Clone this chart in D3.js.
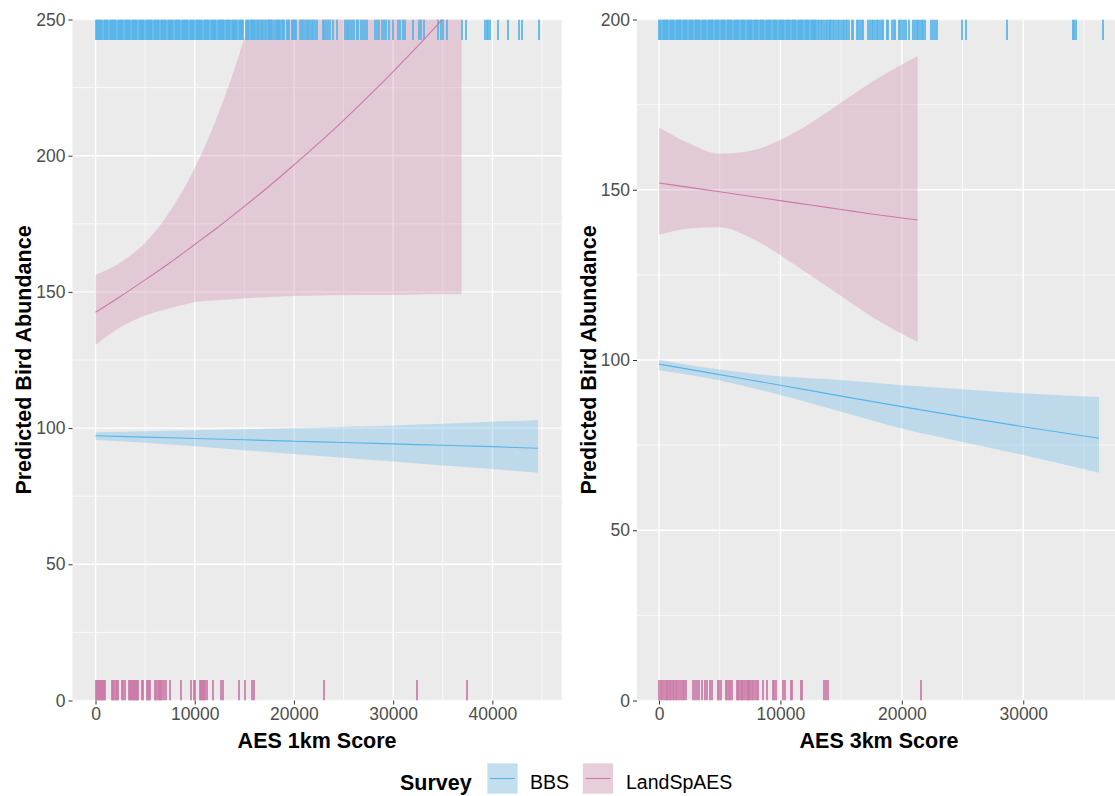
<!DOCTYPE html>
<html>
<head>
<meta charset="utf-8">
<script src="https://cdn.jsdelivr.net/npm/d3@7"></script>
<style>
  html, body { margin: 0; padding: 0; background: #ffffff; }
  svg { display: block; font-family: "Liberation Sans", Arial, sans-serif; }
</style>
</head>
<body>
<svg id="chart" width="1115" height="796"></svg>
<script>
// ---------- data ----------
const surveys = ["BBS", "LandSpAES"];
const surveyColors = ["#56B4E9", "#CC79A7"];

// Panel 1: AES 1km score
const p1TicksX = [0, 10000, 20000, 30000, 40000];
const p1MinorX = [5000, 15000, 25000, 35000, 45000];
const p1TicksY = [0, 50, 100, 150, 200, 250];
const p1MinorY = [25, 75, 125, 175, 225];

const p1BbsX     = [0, 5000, 10000, 15000, 20000, 25000, 30000, 35000, 40000, 44600];
const p1BbsFit   = [97.2, 96.7, 96.2, 95.7, 95.2, 94.7, 94.2, 93.7, 93.2, 92.6];
const p1BbsUpper = [98.5, 98.8, 99.2, 99.6, 100.0, 100.5, 101.0, 101.6, 102.3, 103.0];
const p1BbsLower = [95.6, 94.6, 93.3, 91.9, 90.5, 89.1, 87.7, 86.3, 85.0, 83.6];

const p1LandX     = [0, 2500, 5000, 7500, 10000, 12500, 15000, 17500, 20000, 22500, 25000, 27500, 30000, 32500, 35000, 36900];
const p1LandFit   = [142.5, 148.3, 154.4, 160.7, 167.4, 174.2, 181.4, 188.8, 196.6, 204.6, 213.0, 221.8, 230.9, 240.3, 250.2, 257.8];
const p1LandUpper = [156.2, 160.8, 168.0, 179.5, 195.5, 216.5, 243.0, 275.0, 310.0, 350.0, 395.0, 445.0, 500.0, 560.0, 625.0, 680.0];
const p1LandLower = [130.5, 137.0, 141.3, 144.0, 146.2, 147.0, 147.6, 148.1, 148.5, 148.7, 148.8, 148.9, 148.9, 149.0, 149.1, 149.1];

const p1BbsRug = [0,115,240,350,470,590,700,820,940,1060,1170,1290,1410,1520,1640,1760,1880,1990,2110,2230,2340,2460,2580,2700,2810,2930,3050,3160,3280,3400,3520,3630,3750,3870,3980,4100,4220,4340,4450,4570,4690,4800,4920,5040,5160,5270,5390,5510,5620,5740,5860,5980,6090,6210,6330,6440,6560,6680,6800,6910,7030,7150,7260,7380,7500,7620,7730,7850,7970,8080,8200,8320,8440,8550,8670,8790,8900,9020,9140,9260,9370,9490,9610,9720,9840,9960,10080,10190,10310,10430,10540,10660,10780,10900,11010,11130,11250,11360,11480,11600,11720,11830,11950,12070,12180,12300,12420,12540,12650,12770,12890,13000,13120,13240,13360,13470,13590,13710,13830,13950,14060,14180,14300,14420,14530,14650,14770,14880,
  15170,15290,15410,15500,15640,15760,15880,16000,16120,16240,16360,16480,16690,16810,16930,17050,17170,17350,17470,17590,17710,17830,18030,18150,18270,18390,18510,18630,18750,
  18867,19035,19270,19438,19539,19774,19875,19975,20100,20200,20614,20782,20883,21118,21286,21454,21622,21790,21958,22126,22361,22899,23067,23235,23470,23638,23974,24377,25150,25318,25486,25654,25822,26057,26326,26494,26729,26931,27166,27334,28174,28342,28611,28846,29081,29283,29619,30022,30526,30694,31030,31198,31971,32643,32777,33113,34558,34793,35062,35465,36977,37347,39262,39430,39598,39766,40606,41547,42723,42958,44739];
const p1LandRug = [17,118,219,320,420,521,622,723,857,958,1697,1798,1899,2033,2134,2302,2705,2806,2974,3377,3478,3579,3680,3780,3881,3982,4083,4217,4318,4654,4755,5158,5259,5360,5494,5998,6099,6267,6401,6502,6603,6737,6905,7107,7510,8619,9627,9929,10030,10534,10635,10736,10837,10938,11038,11206,11811,12617,12886,14499,15070,15809,16011,23067,32380,37480];

// Panel 2: AES 3km score
const p2TicksX = [0, 10000, 20000, 30000];
const p2MinorX = [5000, 15000, 25000, 35000];
const p2TicksY = [0, 50, 100, 150, 200];
const p2MinorY = [25, 75, 125, 175];

const p2BbsX     = [0, 5000, 10000, 15000, 20000, 25000, 30000, 36240];
const p2BbsFit   = [98.8, 95.7, 92.6, 89.4, 86.3, 83.3, 80.4, 77.0];
const p2BbsUpper = [100.1, 97.2, 95.2, 94.1, 92.6, 91.4, 90.2, 89.1];
const p2BbsLower = [97.0, 94.0, 89.7, 84.8, 79.9, 75.9, 72.1, 66.9];

const p2LandX     = [0, 2500, 5000, 7500, 10000, 12500, 15000, 17500, 21300];
const p2LandFit   = [152.0, 150.7, 149.4, 148.1, 146.8, 145.5, 144.2, 142.9, 141.1];
const p2LandUpper = [168.3, 163.6, 160.6, 161.4, 164.6, 169.6, 175.6, 181.6, 189.3];
const p2LandLower = [136.8, 138.6, 139.0, 136.0, 130.8, 124.8, 118.8, 112.8, 105.3];

const p2BbsRug = [0,100,195,290,390,490,585,680,780,880,975,1070,1170,1270,1365,1460,1560,1660,1755,1850,1950,2050,2145,2240,2340,2440,2535,2630,2730,2830,2925,3020,3120,3220,3315,3410,3510,3610,3705,3800,3900,4000,4095,4190,4290,4390,4485,4580,4680,4780,4875,4970,5070,5170,5265,5360,5460,5560,5655,5750,5850,5950,6045,6140,6240,6340,6435,6530,6630,6730,6825,6920,7020,7120,7215,7310,7410,7510,7605,7700,7800,7900,7995,8090,8190,8290,8385,8480,8580,8680,8775,8870,8970,9070,9165,9260,9360,9460,9555,9650,9750,9850,9945,10040,10140,10240,10335,10430,10530,10630,10725,10820,10920,11020,11115,11210,11310,11410,11505,11600,11700,11800,11895,11990,12090,12190,12285,12380,12480,12580,12675,12770,12870,12970,13065,13207,
  13317,13454,13591,13728,13866,14003,14085,14168,14305,14442,14580,14717,14854,14991,15184,15266,15376,15513,15678,15870,16008,16337,16420,16557,16694,16831,17243,17380,17517,17655,17792,17929,18067,18204,18341,18424,18808,18891,19220,19330,19440,19770,19852,19989,20209,20346,20593,20950,21088,21225,21362,21500,21637,21774,21912,22406,22543,22735,22927,24987,25289,28694,34076,34186,34351,36603];
const p2LandRug = [0,138,275,440,550,659,769,879,989,1126,1236,1373,1511,1648,1813,1950,2087,2225,2829,2966,3158,3323,3570,3790,3982,4202,4339,4833,4971,5108,5520,5630,5740,5849,5987,6399,6509,6618,6728,6838,6948,7085,7222,7305,7415,7497,7634,7772,7909,8046,8184,8540,8870,9364,9474,9639,10243,10380,10847,10984,11671,11753,13620,13730,13950,21550];

const xTitles = ["AES 1km Score", "AES 3km Score"];
const yTitle = "Predicted Bird Abundance";
const legendTitle = "Survey";

// ---------- layout ----------
const zip = (xs, ...cols) => xs.map((x, i) => ({ x, fit: cols[0][i], lo: cols[1][i], hi: cols[2][i] }));

const panels = [
  {
    left: 72.5, right: 561.7, top: 19.5, bottom: 700.5,
    xDomain: [-2320, 46990], yDomain: [0, 250],
    ticksX: p1TicksX, minorX: p1MinorX, ticksY: p1TicksY, minorY: p1MinorY,
    series: [
      { key: 0, data: zip(p1BbsX, p1BbsFit, p1BbsLower, p1BbsUpper), rug: p1BbsRug, side: "top" },
      { key: 1, data: zip(p1LandX, p1LandFit, p1LandLower, p1LandUpper), rug: p1LandRug, side: "bottom" }
    ],
    xTitle: xTitles[0], yTitleX: 23
  },
  {
    left: 637, right: 1121, top: 19.5, bottom: 700.5,
    xDomain: [-1812, 38052], yDomain: [0, 200],
    ticksX: p2TicksX, minorX: p2MinorX, ticksY: p2TicksY, minorY: p2MinorY,
    series: [
      { key: 0, data: zip(p2BbsX, p2BbsFit, p2BbsLower, p2BbsUpper), rug: p2BbsRug, side: "top" },
      { key: 1, data: zip(p2LandX, p2LandFit, p2LandLower, p2LandUpper), rug: p2LandRug, side: "bottom" }
    ],
    xTitle: xTitles[1], yTitleX: 588
  }
];

const svg = d3.select("#chart");
const defs = svg.append("defs");
const fmt = d3.format("d");

panels.forEach((p, pi) => {
  const x = d3.scaleLinear().domain(p.xDomain).range([p.left, p.right]);
  const y = d3.scaleLinear().domain(p.yDomain).range([p.bottom, p.top]);
  const w = p.right - p.left, h = p.bottom - p.top;

  defs.append("clipPath").attr("id", "clip" + pi)
    .append("rect").attr("x", p.left).attr("y", p.top).attr("width", w).attr("height", h);

  const g = svg.append("g");
  // panel background
  g.append("rect").attr("x", p.left).attr("y", p.top).attr("width", w).attr("height", h).attr("fill", "#EBEBEB");

  // grid lines
  const grid = g.append("g").attr("clip-path", `url(#clip${pi})`);
  grid.selectAll(".minx").data(p.minorX).join("line")
    .attr("x1", d => x(d)).attr("x2", d => x(d)).attr("y1", p.top).attr("y2", p.bottom)
    .attr("stroke", "#ffffff").attr("stroke-width", 0.7);
  grid.selectAll(".miny").data(p.minorY).join("line")
    .attr("y1", d => y(d)).attr("y2", d => y(d)).attr("x1", p.left).attr("x2", p.right)
    .attr("stroke", "#ffffff").attr("stroke-width", 0.7);
  grid.selectAll(".majx").data(p.ticksX).join("line")
    .attr("x1", d => x(d)).attr("x2", d => x(d)).attr("y1", p.top).attr("y2", p.bottom)
    .attr("stroke", "#ffffff").attr("stroke-width", 1.4);
  grid.selectAll(".majy").data(p.ticksY).join("line")
    .attr("y1", d => y(d)).attr("y2", d => y(d)).attr("x1", p.left).attr("x2", p.right)
    .attr("stroke", "#ffffff").attr("stroke-width", 1.4);

  const plot = g.append("g").attr("clip-path", `url(#clip${pi})`);

  // confidence ribbons
  const area = d3.area().x(d => x(d.x)).y0(d => y(d.lo)).y1(d => y(d.hi)).curve(d3.curveMonotoneX);
  p.series.forEach(s => {
    plot.append("path").datum(s.data).attr("d", area)
      .attr("fill", surveyColors[s.key]).attr("fill-opacity", 0.3);
  });

  // rugs (tick centres snapped to pixel boundaries so dense runs fill solidly)
  const rugLen = 0.03 * h;
  p.series.forEach(s => {
    plot.append("g")
      .selectAll("line").data(s.rug).join("line")
      .attr("x1", d => Math.round(x(d))).attr("x2", d => Math.round(x(d)))
      .attr("y1", s.side === "top" ? p.top : p.bottom - rugLen)
      .attr("y2", s.side === "top" ? p.top + rugLen : p.bottom)
      .attr("stroke", surveyColors[s.key]).attr("stroke-width", 1.7);
  });

  // fitted lines
  const line = d3.line().x(d => x(d.x)).y(d => y(d.fit)).curve(d3.curveMonotoneX);
  p.series.forEach(s => {
    plot.append("path").datum(s.data).attr("d", line)
      .attr("fill", "none").attr("stroke", surveyColors[s.key]).attr("stroke-width", 1.1);
  });

  // axes
  const ax = svg.append("g").attr("transform", `translate(0,${p.bottom})`)
    .call(d3.axisBottom(x).tickValues(p.ticksX).tickFormat(fmt).tickSize(4).tickPadding(3));
  const ay = svg.append("g").attr("transform", `translate(${p.left},0)`)
    .call(d3.axisLeft(y).tickValues(p.ticksY).tickFormat(fmt).tickSize(4).tickPadding(3));
  [ax, ay].forEach(a => {
    a.select(".domain").remove();
    a.selectAll(".tick line").attr("stroke", "#333333").attr("stroke-width", 1);
    a.selectAll(".tick text").attr("fill", "#4D4D4D").attr("font-size", 17.5)
      .attr("font-family", "Liberation Sans, Arial, sans-serif");
  });

  // axis titles
  svg.append("text").attr("x", (p.left + p.right) / 2).attr("y", 748)
    .attr("text-anchor", "middle").attr("font-size", 21.5).attr("font-weight", "bold")
    .attr("fill", "#000000").text(p.xTitle);
  svg.append("text")
    .attr("transform", `translate(${p.yTitleX + 8},${(p.top + p.bottom) / 2}) rotate(-90)`)
    .attr("text-anchor", "middle").attr("font-size", 21.5).attr("font-weight", "bold")
    .attr("fill", "#000000").text(yTitle);
});

// ---------- legend ----------
const lg = svg.append("g");
lg.append("text").attr("x", 400).attr("y", 790).attr("font-size", 21.5).attr("font-weight", "bold")
  .attr("fill", "#000000").text(legendTitle);
const keyX = [487, 582.5];
const labX = [530, 626];
surveys.forEach((s, i) => {
  lg.append("rect").attr("x", keyX[i]).attr("y", 763).attr("width", 31).attr("height", 31).attr("fill", "#F2F2F2");
  lg.append("rect").attr("x", keyX[i] + 0.5).attr("y", 763.5).attr("width", 30).attr("height", 30)
    .attr("fill", surveyColors[i]).attr("fill-opacity", 0.3);
  lg.append("line").attr("x1", keyX[i] + 3).attr("x2", keyX[i] + 28).attr("y1", 778.5).attr("y2", 778.5)
    .attr("stroke", surveyColors[i]).attr("stroke-width", 1.1);
  lg.append("text").attr("x", labX[i]).attr("y", 789).attr("font-size", 19.5).attr("fill", "#000000").text(s);
});
</script>
</body>
</html>
